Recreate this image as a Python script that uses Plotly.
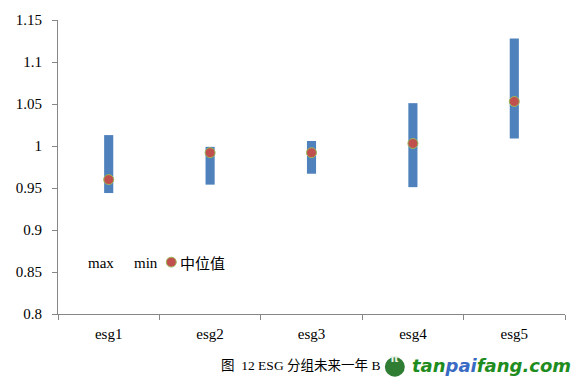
import plotly.graph_objects as go

categories = ["esg1", "esg2", "esg3", "esg4", "esg5"]
max_vals = [1.013, 0.999, 1.006, 1.051, 1.128]
min_vals = [0.944, 0.954, 0.967, 0.951, 1.009]
median_vals = [0.960, 0.992, 0.992, 1.003, 1.053]
y_ticks = [0.8, 0.85, 0.9, 0.95, 1.0, 1.05, 1.1, 1.15]
y_tick_labels = ["0.8", "0.85", "0.9", "0.95", "1", "1.05", "1.1", "1.15"]
legend_labels = ["max", "min", "中位值"]

serif = "Liberation Serif, Times New Roman, serif"
cjk = "Liberation Serif, Noto Sans CJK SC, serif"

W, H = 581, 387
L, R, T, B = 57.5, 15.5, 17, 72.5
PW, PH = W - L - R, H - T - B


def fx(px):
    return (px - L) / PW


def fy(py):
    return (H - py - B) / PH


fig = go.Figure()
fig.add_trace(go.Bar(
    x=categories,
    base=min_vals,
    y=[mx - mn for mx, mn in zip(max_vals, min_vals)],
    width=0.09,
    marker=dict(color="#4F81BD", line=dict(width=0)),
    name="max",
    showlegend=False,
    hoverinfo="skip",
))
fig.add_trace(go.Scatter(
    x=categories,
    y=median_vals,
    mode="markers",
    marker=dict(size=10, color="#C0504D", line=dict(color="#9BBB59", width=1)),
    name="中位值",
    showlegend=False,
))

ann_common = dict(xref="paper", yref="paper", showarrow=False,
                  xanchor="left", yanchor="middle")
fig.add_annotation(text=legend_labels[0], x=fx(86), y=fy(263),
                   font=dict(family=serif, size=15, color="#000000"), **ann_common)
fig.add_annotation(text=legend_labels[1], x=fx(132), y=fy(263),
                   font=dict(family=serif, size=15, color="#000000"), **ann_common)
fig.add_annotation(text=legend_labels[2], x=fx(178), y=fy(262),
                   font=dict(family="Noto Sans CJK SC", size=15, color="#000000"), **ann_common)
fig.add_annotation(text="图  12 ESG 分组未来一年 B", x=fx(219), y=fy(366.5),
                   font=dict(family=cjk, size=13.5, color="#000000"), **ann_common)
fig.add_annotation(
    text="<b><i><span style='color:#1E8C1E'>tan</span><span style='color:#3A6BC4'>pai</span>"
         "<span style='color:#1E8C1E'>fang.com</span></i></b>",
    x=fx(410), y=fy(366.5),
    font=dict(family="DejaVu Sans", size=18, color="#1E8C1E"), **ann_common)
fig.add_annotation(text="<b>π</b>", xref="paper", yref="paper",
                   x=fx(395), y=fy(368), showarrow=False,
                   font=dict(family="DejaVu Sans", size=11, color="#E8F2E8"))

fig.add_shape(type="circle", xref="paper", yref="paper",
              x0=fx(166), x1=fx(176), y0=fy(267), y1=fy(257),
              fillcolor="#C0504D", line=dict(color="#9BBB59", width=1))
fig.add_shape(type="circle", xref="paper", yref="paper",
              x0=fx(385), x1=fx(405), y0=fy(378), y1=fy(358),
              fillcolor="#2E7D32", line=dict(color="#2E7D32", width=0), layer="below")

fig.update_layout(
    width=W, height=H,
    margin=dict(l=L, r=R, t=T, b=B),
    paper_bgcolor="white", plot_bgcolor="white",
    showlegend=False,
    xaxis=dict(
        type="category",
        showline=True, linecolor="#868686", linewidth=1,
        ticks="outside", ticklen=5, tickcolor="#868686", tickson="boundaries",
        showgrid=False, zeroline=False,
        tickfont=dict(family=serif, size=15, color="#000000"),
        ticklabelstandoff=6,
        range=[-0.5, 4.5],
    ),
    yaxis=dict(
        range=[0.8, 1.15],
        tickvals=y_ticks, ticktext=y_tick_labels,
        showline=True, linecolor="#868686", linewidth=1,
        ticks="outside", ticklen=5, tickcolor="#868686",
        showgrid=False, zeroline=False,
        tickfont=dict(family=serif, size=15, color="#000000"),
        ticklabelstandoff=7,
    ),
)

fig.write_html("out.html", config={"displayModeBar": False},
               post_script="document.body.style.margin='0';")
